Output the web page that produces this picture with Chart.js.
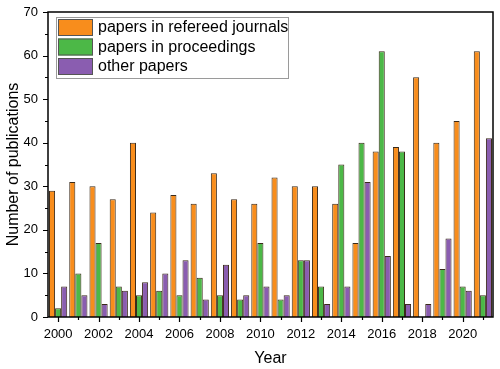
<!DOCTYPE html>
<html>
<head>
<meta charset="utf-8">
<script src="https://cdn.jsdelivr.net/npm/chart.js@4/dist/chart.umd.min.js"></script>
<style>
  html, body { margin: 0; padding: 0; background: #fff; }
  #wrap { width: 500px; height: 369px; position: relative; }
</style>
</head>
<body>
<div id="wrap"><canvas id="bar-chart"></canvas></div>
<script>
const years = ['2000', '2001', '2002', '2003', '2004', '2005', '2006', '2007', '2008', '2009', '2010',
               '2011', '2012', '2013', '2014', '2015', '2016', '2017', '2018', '2019', '2020', '2021'];
const journals    = [29, 31, 30, 27, 40, 24, 28, 26, 33, 27, 26, 32, 30, 30, 26, 17, 38, 39, 55, 40, 45, 61];
const proceedings = [2, 10, 17, 7, 5, 6, 5, 9, 5, 4, 17, 4, 13, 7, 35, 40, 61, 38, 0, 11, 7, 5];
const others      = [7, 5, 3, 6, 8, 10, 13, 4, 12, 5, 7, 5, 13, 3, 7, 31, 14, 3, 3, 18, 6, 41];
const seriesNames = ['papers in refereed journals', 'papers in proceedings', 'other papers'];
const yMajorTicks = [0, 10, 20, 30, 40, 50, 60, 70];
const yMinorTicks = [5, 15, 25, 35, 45, 55, 65];

const colors = ['#f88d1c', '#4cb847', '#8a5db0'];
const FONT = 'Liberation Sans, Arial, sans-serif';

// frame, tick marks and legend like the original plot
const decorations = {
    id: 'decorations',
    afterDraw(chart) {
        const ctx = chart.ctx;
        const a = chart.chartArea;
        const x = chart.scales.x;
        const y = chart.scales.y;
        ctx.save();
        ctx.strokeStyle = '#000';
        ctx.lineWidth = 1.5;
        ctx.strokeRect(a.left, a.top, a.right - a.left, a.bottom - a.top);

        ctx.lineWidth = 1.2;
        ctx.beginPath();
        yMajorTicks.forEach(v => {
            const py = Math.round(y.getPixelForValue(v)) + 0.5;
            ctx.moveTo(a.left - 5, py); ctx.lineTo(a.left, py);
        });
        yMinorTicks.forEach(v => {
            const py = Math.round(y.getPixelForValue(v)) + 0.5;
            ctx.moveTo(a.left - 3, py); ctx.lineTo(a.left, py);
        });
        years.forEach((lbl, i) => {
            const px = Math.round(x.getPixelForValue(i)) + 0.5;
            const len = (i % 2 === 0) ? 5 : 3;
            ctx.moveTo(px, a.bottom); ctx.lineTo(px, a.bottom + len);
        });
        ctx.stroke();

        // legend box
        const lx = 56, ly = 17, lw = 232, lh = 61;
        ctx.fillStyle = '#fff';
        ctx.fillRect(lx, ly, lw, lh);
        ctx.strokeStyle = '#9a9a9a';
        ctx.lineWidth = 1;
        ctx.strokeRect(lx + 0.5, ly + 0.5, lw, lh);
        ctx.font = '16px ' + FONT;
        ctx.textBaseline = 'middle';
        seriesNames.forEach((name, i) => {
            const sy = 19 + i * 19.5;
            ctx.fillStyle = colors[i];
            ctx.fillRect(58, sy, 35, 17);
            ctx.strokeStyle = '#555';
            ctx.strokeRect(58.5, sy + 0.5, 34, 16);
            ctx.fillStyle = '#000';
            ctx.fillText(name, 98, sy + 9);
        });
        ctx.restore();
    }
};

const chartData = {
    labels: years,
    datasets: [journals, proceedings, others].map((d, i) => ({
        label: seriesNames[i],
        data: d,
        backgroundColor: colors[i],
        borderColor: '#3a2a1a',
        borderWidth: 1,
        borderSkipped: 'bottom',
        categoryPercentage: 0.9,
        barPercentage: 1.0,
    })),
};

new Chart(document.getElementById('bar-chart'), {
    type: 'bar',
    data: chartData,
    plugins: [decorations],
    options: {
        responsive: true,
        maintainAspectRatio: false,
        animation: false,
        layout: { padding: { left: 0, top: 12, right: 7, bottom: 0 } },
        plugins: {
            legend: { display: false },
            tooltip: { enabled: false },
        },
        scales: {
            x: {
                offset: true,
                grid: { display: false, drawTicks: false },
                border: { display: false },
                ticks: {
                    autoSkip: false,
                    maxRotation: 0,
                    padding: 10,
                    color: '#000',
                    font: { family: FONT, size: 13 },
                    callback: (v, i) => (i % 2 === 0 ? years[i] : ''),
                },
                title: {
                    display: true,
                    text: 'Year',
                    color: '#000',
                    font: { family: FONT, size: 16 },
                    padding: { top: 9, bottom: 1 },
                },
                afterFit: (s) => { s.height = 52; s.paddingLeft = 0; s.paddingRight = 0; },
            },
            y: {
                min: 0,
                max: 70,
                grid: { display: false, drawTicks: false },
                border: { display: false },
                ticks: {
                    stepSize: 10,
                    padding: 10,
                    color: '#000',
                    font: { family: FONT, size: 13 },
                },
                title: {
                    display: true,
                    text: 'Number of publications',
                    color: '#000',
                    font: { family: FONT, size: 16 },
                    padding: { top: 4, bottom: 2 },
                },
                afterFit: (s) => { s.width = 48; s.paddingTop = 0; s.paddingBottom = 0; },
            },
        },
    },
});
</script>
</body>
</html>
